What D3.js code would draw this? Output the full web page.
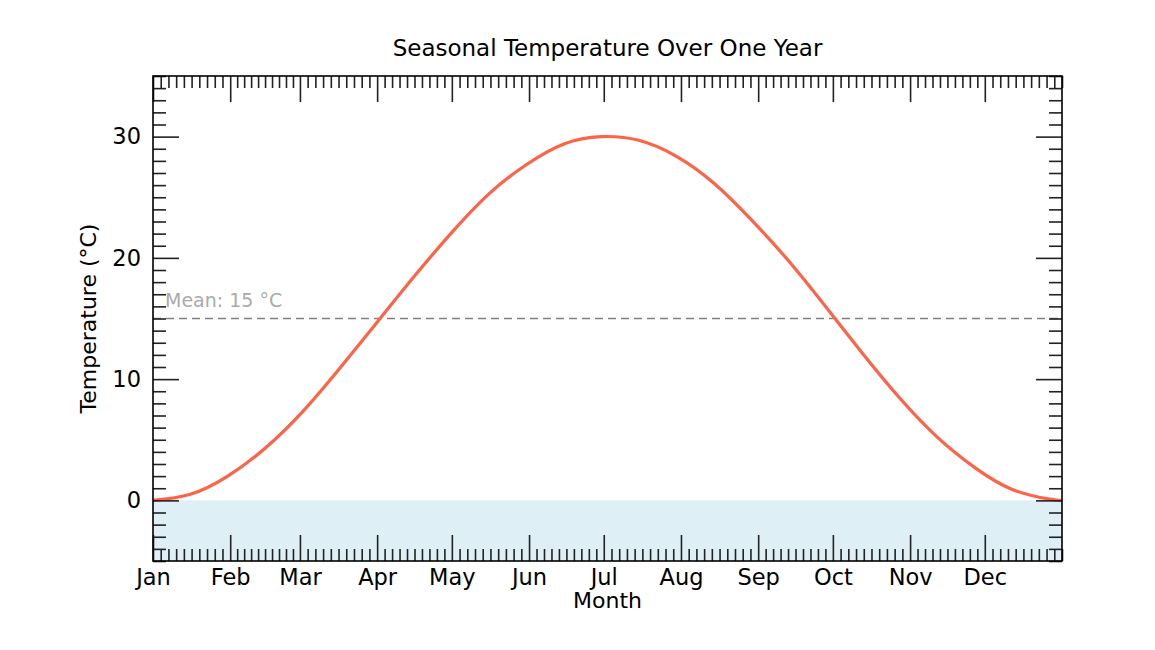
<!DOCTYPE html>
<html>
<head>
<meta charset="utf-8">
<script src="https://cdn.jsdelivr.net/npm/d3@7"></script>
<style>
  body { margin: 0; background: #fff; }
  svg { display: block; font-family: "DejaVu Sans", sans-serif; }
  .axis path { display: none; }
  .axis line { stroke: #222; stroke-width: 1.6; }
  .axis text { font-family: "DejaVu Sans", sans-serif; font-size: 22.5px; fill: #000; }
</style>
</head>
<body>
<svg id="chart" width="1155" height="650"></svg>
<script>
// Data
var monthNames = ["Jan", "Feb", "Mar", "Apr", "May", "Jun", "Jul", "Aug", "Sep", "Oct", "Nov", "Dec"];
var monthStartDays = [0, 31, 59, 90, 120, 151, 181, 212, 243, 273, 304, 334, 365];
var sampleDays = [0, 15, 30, 45, 60, 75, 90, 105, 120, 135, 150, 165, 180, 195, 210, 225, 240, 255, 270, 285, 300, 315, 330, 345, 360, 365];
var temperatures = [0, 0.5, 2.0, 4.3, 7.3, 10.9, 14.7, 18.5, 22.1, 25.3, 27.7, 29.4, 30.0, 29.7, 28.4, 26.2, 23.2, 19.8, 16.0, 12.1, 8.4, 5.2, 2.7, 0.9, 0.1, 0];
var meanTemp = 15;
var yMajorTicks = [0, 10, 20, 30];

var margin = { left: 153, top: 76, right: 1062, bottom: 561 };
var svg = d3.select('#chart');

var x = d3.scaleLinear().domain([0, 365]).range([margin.left, margin.right]);
var y = d3.scaleLinear().domain([-5, 35]).range([margin.bottom, margin.top]);

// Minor ticks: each month split in 10
var xMinor = [];
for (var m = 0; m < 12; m++) {
    var a = monthStartDays[m], b = monthStartDays[m + 1];
    for (var k = 1; k < 10; k++) xMinor.push(a + (b - a) * k / 10);
}
xMinor.push(365);
var yMinor = d3.range(-5, 36, 1).filter(function (v) { return yMajorTicks.indexOf(v) < 0; });

// Below-freezing band
svg.append('rect')
    .attr('x', x(0))
    .attr('y', y(0))
    .attr('width', x(365) - x(0))
    .attr('height', y(-5) - y(0))
    .attr('fill', '#add8e6')
    .attr('fill-opacity', 0.4);

// Mean line
svg.append('line')
    .attr('x1', x(0)).attr('x2', x(365))
    .attr('y1', y(meanTemp)).attr('y2', y(meanTemp))
    .attr('stroke', '#808080')
    .attr('stroke-width', 1.6)
    .attr('stroke-dasharray', '8,5');

svg.append('text')
    .attr('x', x(0) + 12)
    .attr('y', y(meanTemp) - 12)
    .attr('font-size', '19px')
    .attr('fill', '#aaaaaa')
    .text('Mean: ' + meanTemp + ' \u00b0C');

// Temperature curve
var line = d3.line()
    .x(function (d, i) { return x(sampleDays[i]); })
    .y(function (d) { return y(d); })
    .curve(d3.curveNatural);

svg.append('path')
    .datum(temperatures)
    .attr('d', line)
    .attr('fill', 'none')
    .attr('stroke', '#ff6347')
    .attr('stroke-width', 3.2);

// Axes (ticks pointing inward)
function addAxis(axis, tx, ty) {
    svg.append('g')
        .attr('class', 'axis')
        .attr('transform', 'translate(' + tx + ',' + ty + ')')
        .call(axis);
}
var noLabel = function () { return ''; };

addAxis(d3.axisBottom(x).tickValues(monthStartDays.slice(0, 12))
    .tickFormat(function (d, i) { return monthNames[i]; })
    .tickSize(-26).tickPadding(8), 0, margin.bottom);
addAxis(d3.axisBottom(x).tickValues(xMinor).tickFormat(noLabel).tickSize(-12), 0, margin.bottom);
addAxis(d3.axisTop(x).tickValues(monthStartDays.slice(0, 12)).tickFormat(noLabel).tickSize(-26), 0, margin.top);
addAxis(d3.axisTop(x).tickValues(xMinor).tickFormat(noLabel).tickSize(-12), 0, margin.top);

addAxis(d3.axisLeft(y).tickValues(yMajorTicks).tickFormat(d3.format('d'))
    .tickSize(-26).tickPadding(12), margin.left, 0);
addAxis(d3.axisLeft(y).tickValues(yMinor).tickFormat(noLabel).tickSize(-13), margin.left, 0);
addAxis(d3.axisRight(y).tickValues(yMajorTicks).tickFormat(noLabel).tickSize(-26), margin.right, 0);
addAxis(d3.axisRight(y).tickValues(yMinor).tickFormat(noLabel).tickSize(-13), margin.right, 0);

// Frame
svg.append('rect')
    .attr('x', margin.left).attr('y', margin.top)
    .attr('width', margin.right - margin.left)
    .attr('height', margin.bottom - margin.top)
    .attr('fill', 'none')
    .attr('stroke', '#000')
    .attr('stroke-width', 1.6);

// Titles
svg.append('text')
    .attr('x', (margin.left + margin.right) / 2)
    .attr('y', 56)
    .attr('text-anchor', 'middle')
    .attr('font-size', '23px')
    .text('Seasonal Temperature Over One Year');

svg.append('text')
    .attr('x', (margin.left + margin.right) / 2)
    .attr('y', 608)
    .attr('text-anchor', 'middle')
    .attr('font-size', '22px')
    .text('Month');

svg.append('text')
    .attr('transform', 'translate(96,' + ((margin.top + margin.bottom) / 2) + ') rotate(-90)')
    .attr('text-anchor', 'middle')
    .attr('font-size', '22px')
    .text('Temperature (\u00b0C)');
</script>
</body>
</html>
